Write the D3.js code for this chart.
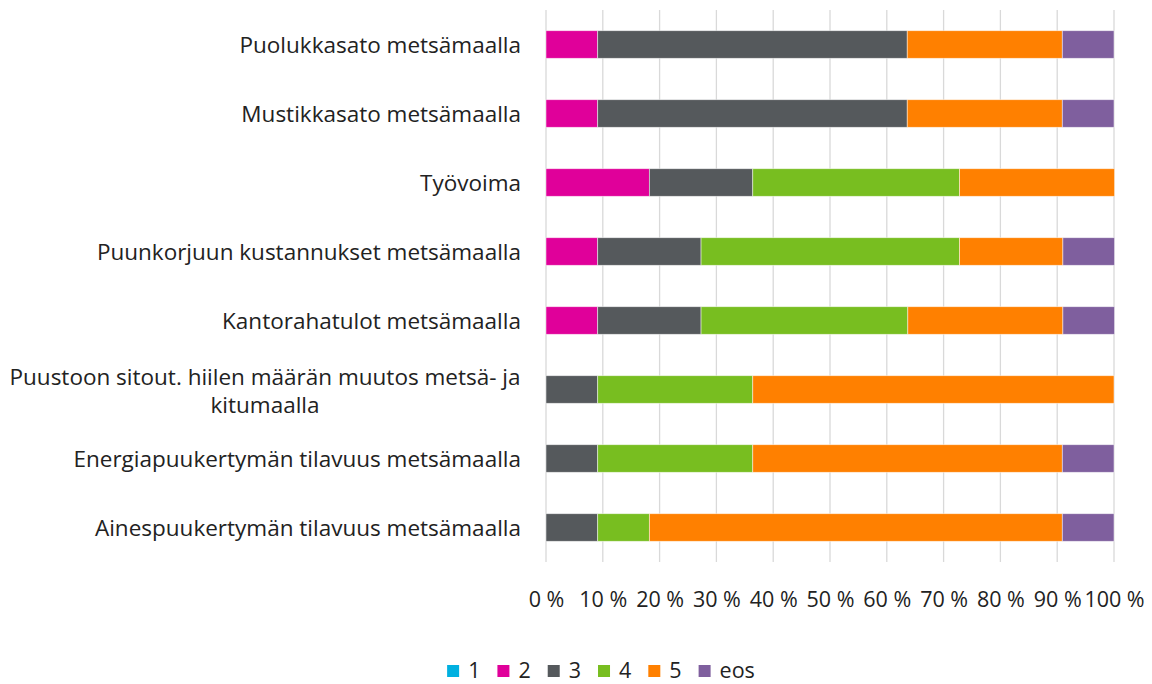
<!DOCTYPE html>
<html>
<head>
<meta charset="utf-8">
<script src="https://cdn.jsdelivr.net/npm/d3@7"></script>
<style>
  body { margin:0; background:#fff; }
  text { font-family:"Open Sans","Noto Sans",sans-serif; fill:#222; }
</style>
</head>
<body>
<svg id="chart" width="1152" height="684"></svg>
<script>
// categories top to bottom ("|" marks a line break)
var categories = [
  "Puolukkasato metsämaalla",
  "Mustikkasato metsämaalla",
  "Työvoima",
  "Puunkorjuun kustannukset metsämaalla",
  "Kantorahatulot metsämaalla",
  "Puustoon sitout. hiilen määrän muutos metsä- ja|kitumaalla",
  "Energiapuukertymän tilavuus metsämaalla",
  "Ainespuukertymän tilavuus metsämaalla"
];
var seriesNames = ["1", "2", "3", "4", "5", "eos"];
var seriesColors = ["#00b0e0", "#e0009a", "#55595c", "#78be20", "#ff8000", "#7f5f9e"];

// share of answers, %
var s1  = [0, 0, 0, 0, 0, 0, 0, 0];
var s2  = [9.1, 9.1, 18.2, 9.1, 9.1, 0, 0, 0];
var s3  = [54.5, 54.5, 18.2, 18.2, 18.2, 9.1, 9.1, 9.1];
var s4  = [0, 0, 36.4, 45.5, 36.4, 27.3, 27.3, 9.1];
var s5  = [27.3, 27.3, 27.3, 18.2, 27.3, 63.6, 54.5, 72.7];
var eos = [9.1, 9.1, 0, 9.1, 9.1, 0, 9.1, 9.1];

var xTicks = [0, 10, 20, 30, 40, 50, 60, 70, 80, 90, 100];

(function(){
  var seriesVals = [s1, s2, s3, s4, s5, eos];
  var rows = categories.map(function(c, i){
    var r = {cat:c};
    seriesNames.forEach(function(n, j){ r[n] = seriesVals[j][i]; });
    return r;
  });

  var svg = d3.select("#chart");
  var pLeft = 546, pRight = 1114, pTop = 10, pBottom = 562;
  var fs = 21.5, fsCat = 22.5;

  var x = d3.scaleLinear().domain([0, 100]).range([pLeft, pRight]);
  var y = d3.scaleBand().domain(categories).range([pTop, pBottom]).paddingInner(0.6).paddingOuter(0.3);

  // gridlines
  svg.append("g").selectAll("line").data(xTicks).join("line")
    .attr("x1", function(d){ return x(d); }).attr("x2", function(d){ return x(d); })
    .attr("y1", pTop).attr("y2", pBottom)
    .attr("stroke", "#d9d9d9").attr("stroke-width", 1.3);

  // stacked bars
  var layers = d3.stack().keys(seriesNames)(rows);
  svg.append("g").selectAll("g").data(layers).join("g")
    .attr("fill", function(d, i){ return seriesColors[i]; })
    .selectAll("rect").data(function(d){ return d.filter(function(e){ return e[1] - e[0] > 0; }); }).join("rect")
    .attr("x", function(d){ return x(d[0]); })
    .attr("width", function(d){ return x(d[1]) - x(d[0]); })
    .attr("y", function(d){ return y(d.data.cat); })
    .attr("height", y.bandwidth())
    .attr("stroke", "#ffffff").attr("stroke-opacity", 0.6).attr("stroke-width", 0.8);

  // x axis labels
  var xAxis = d3.axisBottom(x).tickValues(xTicks).tickSize(0).tickPadding(0)
    .tickFormat(function(d){ return d + " %"; });
  var gx = svg.append("g").attr("transform", "translate(0,592)").call(xAxis);
  gx.select(".domain").remove();
  gx.selectAll("text").attr("font-size", fs).attr("font-family", null).attr("fill", "#222");

  // category labels
  svg.append("g").selectAll("text").data(categories).join("text")
    .attr("font-size", fsCat)
    .each(function(d){
      var parts = d.split("|");
      var t = d3.select(this);
      var cy = y(d) + y.bandwidth() / 2;
      if (parts.length == 1){
        t.attr("x", 521).attr("y", cy + 8).attr("text-anchor", "end").text(d);
      } else {
        t.attr("text-anchor", "middle");
        parts.forEach(function(p, k){
          t.append("tspan").attr("x", 265).attr("y", cy - 5 + k * 28).text(p);
        });
      }
    });

  // legend, centred row
  var leg = svg.append("g");
  var lg = leg.selectAll("text").data(seriesNames).join("text")
    .attr("font-size", fs).attr("y", 678).text(function(d){ return d; });
  var widths = [];
  lg.each(function(){ widths.push(this.getComputedTextLength()); });
  var total = widths.reduce(function(a, w){ return a + 21 + w + 17; }, 0) - 17;
  var cx = 601 - total / 2;
  seriesNames.forEach(function(n, i){
    leg.append("rect").attr("x", cx).attr("y", 665).attr("width", 12).attr("height", 12).attr("fill", seriesColors[i]);
    d3.select(lg.nodes()[i]).attr("x", cx + 21);
    cx += 21 + widths[i] + 17;
  });
})();
</script>
</body>
</html>
